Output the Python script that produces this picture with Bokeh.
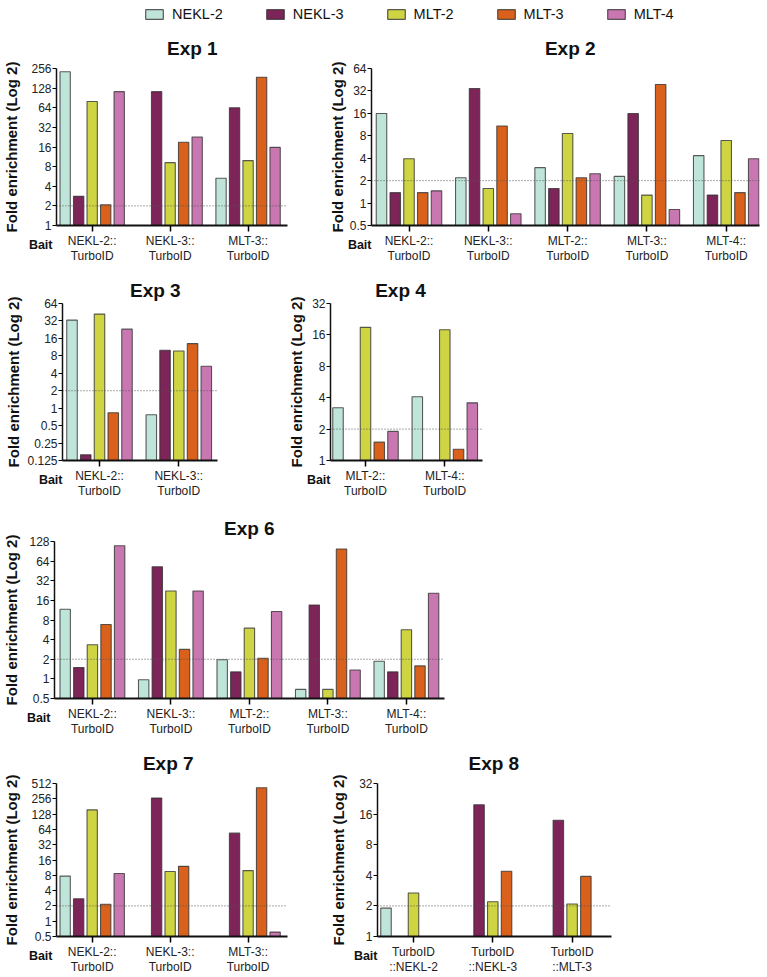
from bokeh.plotting import figure
from bokeh.layouts import column, row
from bokeh.models import (Range1d, FixedTicker, Span, Title, Legend, LegendItem,
                          CustomJSTickFormatter)
from bokeh.embed import file_html
from bokeh.resources import INLINE

FONT = "Liberation Sans"

# ---------------- data ----------------
proteins = ["NEKL-2", "NEKL-3", "MLT-2", "MLT-3", "MLT-4"]
colors = ["#bfe4da", "#7d2458", "#cfd443", "#d9611c", "#c877b1"]

exp1_baits = ["NEKL-2::\nTurboID", "NEKL-3::\nTurboID", "MLT-3::\nTurboID"]
exp1_nekl2 = [228, None, 5.3]
exp1_nekl3 = [2.8, 113, 64]
exp1_mlt2 = [80, 9.2, 9.9]
exp1_mlt3 = [2.08, 18.9, 188]
exp1_mlt4 = [113, 22.8, 15.8]
exp1_ticks = [1, 2, 4, 8, 16, 32, 64, 128, 256]

exp2_baits = ["NEKL-2::\nTurboID", "NEKL-3::\nTurboID", "MLT-2::\nTurboID",
              "MLT-3::\nTurboID", "MLT-4::\nTurboID"]
exp2_nekl2 = [15.9, 2.19, 2.99, 2.28, 4.33]
exp2_nekl3 = [1.38, 34.5, 1.57, 15.9, 1.28]
exp2_mlt2 = [3.94, 1.57, 8.57, 1.28, 6.9]
exp2_mlt3 = [1.38, 10.85, 2.19, 39, 1.38]
exp2_mlt4 = [1.46, 0.72, 2.48, 0.82, 3.94]
exp2_ticks = [0.5, 1, 2, 4, 8, 16, 32, 64]

exp3_baits = ["NEKL-2::\nTurboID", "NEKL-3::\nTurboID"]
exp3_nekl2 = [33.1, 0.77]
exp3_nekl3 = [0.157, 10]
exp3_mlt2 = [42, 9.7]
exp3_mlt3 = [0.835, 13]
exp3_mlt4 = [23.1, 5.3]
exp3_ticks = [0.125, 0.25, 0.5, 1, 2, 4, 8, 16, 32, 64]

exp4_baits = ["MLT-2::\nTurboID", "MLT-4::\nTurboID"]
exp4_nekl2 = [3.2, 4.08]
exp4_nekl3 = [None, None]
exp4_mlt2 = [18.9, 17.9]
exp4_mlt3 = [1.5, 1.28]
exp4_mlt4 = [1.9, 3.57]
exp4_ticks = [1, 2, 4, 8, 16, 32]

exp6_baits = ["NEKL-2::\nTurboID", "NEKL-3::\nTurboID", "MLT-2::\nTurboID",
              "MLT-3::\nTurboID", "MLT-4::\nTurboID"]
exp6_nekl2 = [11.7, 0.97, 1.97, 0.69, 1.86]
exp6_nekl3 = [1.49, 52.6, 1.28, 13.6, 1.28]
exp6_mlt2 = [3.34, 22.3, 6.0, 0.69, 5.66]
exp6_mlt3 = [6.83, 2.83, 2.07, 98, 1.58]
exp6_mlt4 = [110, 22.3, 10.8, 1.37, 20.6]
exp6_ticks = [0.5, 1, 2, 4, 8, 16, 32, 64, 128]

exp7_baits = ["NEKL-2::\nTurboID", "NEKL-3::\nTurboID", "MLT-3::\nTurboID"]
exp7_nekl2 = [7.72, None, None]
exp7_nekl3 = [2.76, 264, 54]
exp7_mlt2 = [155, 9.5, 9.9]
exp7_mlt3 = [2.15, 12.0, 422]
exp7_mlt4 = [8.7, None, 0.61]
exp7_ticks = [0.5, 1, 2, 4, 8, 16, 32, 64, 128, 256, 512]

exp8_baits = ["TurboID\n::NEKL-2", "TurboID\n::NEKL-3", "TurboID\n::MLT-3"]
exp8_nekl2 = [1.9, None, None]
exp8_nekl3 = [None, 19.8, 13.9]
exp8_mlt2 = [2.68, 2.2, 2.09]
exp8_mlt3 = [None, 4.39, 3.9]
exp8_mlt4 = [None, None, None]
exp8_ticks = [1, 2, 4, 8, 16, 32]

threshold = 2

# ---------------- layout constants ----------------
GROUP = 79.3          # px between bait groups
SLOT = 13.75 / GROUP  # bar slot in group units
BARW = 10.5 / GROUP   # bar width in group units


def panel(title, baits, series, ticks, width, height, left, top, bottom,
          frame_w, tick0_gap, title_dx, title_standoff, ylab_standoff):
    n = len(baits)
    x0 = -tick0_gap / GROUP
    x1 = x0 + frame_w / GROUP
    right = width - left - frame_w
    p = figure(width=width, height=height,
               x_range=Range1d(x0, x1), y_range=Range1d(ticks[0], ticks[-1]),
               y_axis_type="log", output_backend="svg", toolbar_location=None,
               min_border_left=left, min_border_right=right,
               min_border_top=top, min_border_bottom=bottom)
    p.outline_line_color = None
    p.xgrid.visible = False
    p.ygrid.visible = False
    p.background_fill_color = "white"
    p.border_fill_color = "white"

    for k, vals in enumerate(series):
        xs = [i + (k - 2) * SLOT for i, v in enumerate(vals) if v is not None]
        tops = [v for v in vals if v is not None]
        if not xs:
            continue
        p.vbar(x=xs, top=tops, bottom=ticks[0], width=BARW,
               fill_color=colors[k], line_color="#333333", line_alpha=0.8,
               line_width=1.1)

    p.add_layout(Span(location=threshold, dimension="width", line_color="#555555",
                      line_dash="1 2", line_width=1))

    xa = p.xaxis[0]
    xa.ticker = FixedTicker(ticks=list(range(n)))
    xa.major_label_overrides = {i: b for i, b in enumerate(baits)}
    xa.minor_tick_line_color = None
    xa.major_tick_out = 6
    xa.major_tick_in = 0
    xa.major_tick_line_width = 1.5
    xa.axis_line_width = 2
    xa.axis_line_color = "#111111"
    xa.major_label_text_font = FONT
    xa.major_label_text_font_size = "12px"
    xa.major_label_text_line_height = 1.12
    xa.major_label_text_color = "#222222"
    xa.major_label_standoff = 2

    ya = p.yaxis[0]
    ya.ticker = FixedTicker(ticks=ticks)
    ya.formatter = CustomJSTickFormatter(code="return String(tick)")
    ya.minor_tick_line_color = None
    ya.major_tick_out = 4
    ya.major_tick_in = 0
    ya.axis_line_width = 1.5
    ya.axis_line_color = "#111111"
    ya.major_label_text_font = FONT
    ya.major_label_text_font_size = "12px"
    ya.major_label_text_color = "#222222"
    ya.major_label_standoff = 1
    ya.axis_label = "Fold enrichment (Log 2)"
    ya.axis_label_text_font = FONT
    ya.axis_label_text_font_size = "15px"
    ya.axis_label_text_font_style = "bold"
    ya.axis_label_text_color = "#111111"
    ya.axis_label_standoff = ylab_standoff

    p.title.text = title
    p.title.align = "left"
    p.title.offset = title_dx
    p.title.standoff = title_standoff
    p.title.text_font = FONT
    p.title.text_font_size = "19px"
    p.title.text_font_style = "bold"
    p.title.text_color = "#111111"

    p.add_layout(Title(text="Bait", align="right", offset=frame_w,
                       vertical_align="top", standoff=-58,
                       text_font=FONT, text_font_size="12.5px",
                       text_font_style="bold", text_color="#111111"), "below")
    return p


p1 = panel("Exp 1", exp1_baits, [exp1_nekl2, exp1_nekl3, exp1_mlt2, exp1_mlt3, exp1_mlt4],
           exp1_ticks, 300, 246, 52, 44, 45, 235, 36.3, 110.5, 20, 8)
p2 = panel("Exp 2", exp2_baits, [exp2_nekl2, exp2_nekl3, exp2_mlt2, exp2_mlt3, exp2_mlt4],
           exp2_ticks, 467, 246, 71, 44, 45, 388, 37.5, 173.4, 20, 1)
p3 = panel("Exp 3", exp3_baits, [exp3_nekl2, exp3_nekl3, exp3_mlt2, exp3_mlt3, exp3_mlt4],
           exp3_ticks, 260, 232, 62, 33, 42, 155, 37, 67.5, 6, 2)
p4 = panel("Exp 4", exp4_baits, [exp4_nekl2, exp4_nekl3, exp4_mlt2, exp4_mlt3, exp4_mlt4],
           exp4_ticks, 260, 232, 70, 33, 42, 152, 35, 44.7, 6, 4)
p6 = panel("Exp 6", exp6_baits, [exp6_nekl2, exp6_nekl3, exp6_mlt2, exp6_mlt3, exp6_mlt4],
           exp6_ticks, 460, 238, 50, 39, 42, 394, 38.3, 169.5, 6, 6)
p7 = panel("Exp 7", exp7_baits, [exp7_nekl2, exp7_nekl3, exp7_mlt2, exp7_mlt3, exp7_mlt4],
           exp7_ticks, 300, 237, 52, 42, 38, 235, 36.3, 86.4, 20, 8)
p8 = panel("Exp 8", exp8_baits, [exp8_nekl2, exp8_nekl3, exp8_mlt2, exp8_mlt3, exp8_mlt4],
           exp8_ticks, 331, 237, 77, 42, 38, 234, 36, 91, 20, 9)

# ---------------- legend strip ----------------
lg = figure(width=767, height=24, x_range=Range1d(10, 11), y_range=Range1d(10, 11),
            output_backend="svg", toolbar_location=None, min_border=0)
lg.axis.visible = False
lg.xgrid.visible = False
lg.ygrid.visible = False
lg.outline_line_color = None
items = []
for name, c in zip(proteins, colors):
    # hidden stand-in renderer (outside the strip's ranges) that only supplies the swatch style
    r = lg.vbar(x=[0], top=[0], width=0, fill_color=c, line_color="#333333",
                line_alpha=0.8, line_width=1.2)
    items.append(LegendItem(label=name, renderers=[r]))
legend = Legend(items=items, orientation="horizontal", location=(143, 2),
                glyph_width=22, glyph_height=12, label_standoff=7, spacing=41,
                padding=0, margin=0, border_line_color=None,
                background_fill_alpha=0, label_text_font=FONT,
                label_text_font_size="14.5px", label_text_color="#111111")
lg.add_layout(legend, "center")

layout = column(lg, row(p1, p2), row(p3, p4), row(p6), row(p7, p8))

open("out.html", "w").write(file_html(layout, INLINE))
